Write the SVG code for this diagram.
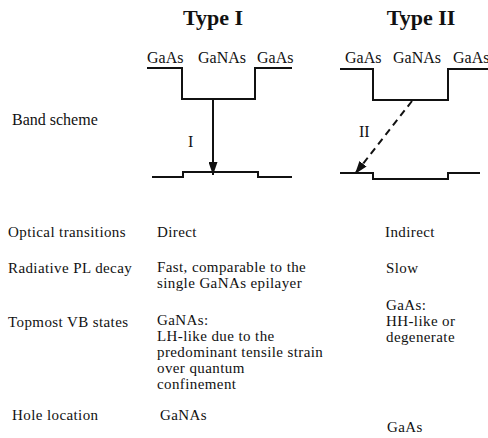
<svg xmlns="http://www.w3.org/2000/svg" width="488" height="438" viewBox="0 0 488 438">
<style>
text{font-family:"Liberation Serif","Times New Roman",serif;font-size:15px;letter-spacing:0.4px;fill:#111}
.title{font-size:22px;font-weight:bold;letter-spacing:0}
.lbl{font-size:16px;letter-spacing:0}
.band{fill:none;stroke:#111;stroke-width:2}
.arr{stroke:#111;stroke-width:2;fill:none}
</style>
<defs>
<marker id="ah" viewBox="0 0 13 9" refX="13" refY="4.5" markerWidth="13" markerHeight="9" markerUnits="userSpaceOnUse" orient="auto">
<path d="M0,0 L13,4.5 L0,9 z" fill="#111"/>
</marker>
</defs>
<rect width="488" height="438" fill="#fff"/>
<g id="typeI">
<text class="title" x="213" y="25" text-anchor="middle">Type I</text>
<text class="lbl" x="147" y="63">GaAs</text>
<text class="lbl" x="198" y="63">GaNAs</text>
<text class="lbl" x="257" y="63">GaAs</text>
<path class="band" d="M147,68 H182 V99 H255 V68 H292"/>
<path class="band" d="M152,177 H183 V172 H258 V177 H292"/>
<text class="lbl" x="188" y="147">I</text>
</g>
<g id="typeII">
<text class="title" x="421" y="25" text-anchor="middle">Type II</text>
<text class="lbl" x="345" y="63">GaAs</text>
<text class="lbl" x="393" y="63">GaNAs</text>
<text class="lbl" x="453" y="63">GaAs</text>
<path class="band" d="M340,69 H373 V100 H448 V69 H488"/>
<path class="band" d="M340,173 H373 V179 H448 V173 H480"/>
<text class="lbl" x="359" y="137">II</text>
</g>
<g id="connectors">
<line class="arr" x1="213" y1="99" x2="213" y2="175" marker-end="url(#ah)"/>
<line class="arr" x1="412" y1="101" x2="355" y2="174" stroke-width="2.5" stroke-dasharray="7,5" marker-end="url(#ah)"/>
</g>
<g id="table">
<text class="lbl" x="12" y="125">Band scheme</text>
<text x="8" y="237">Optical transitions</text>
<text x="157" y="237">Direct</text>
<text x="385" y="237">Indirect</text>
<text x="8" y="273">Radiative PL decay</text>
<text x="157" y="272">Fast, comparable to the</text>
<text x="157" y="288">single GaNAs epilayer</text>
<text x="386" y="273">Slow</text>
<text x="8" y="327">Topmost VB states</text>
<text x="157" y="325">GaNAs:</text>
<text x="157" y="341">LH-like due to the</text>
<text x="157" y="357">predominant tensile strain</text>
<text x="157" y="373">over quantum</text>
<text x="157" y="389">confinement</text>
<text x="386" y="310">GaAs:</text>
<text x="386" y="326">HH-like or</text>
<text x="386" y="342">degenerate</text>
<text x="12" y="420">Hole location</text>
<text x="160" y="420">GaNAs</text>
<text x="387" y="432">GaAs</text>
</g>
</svg>
